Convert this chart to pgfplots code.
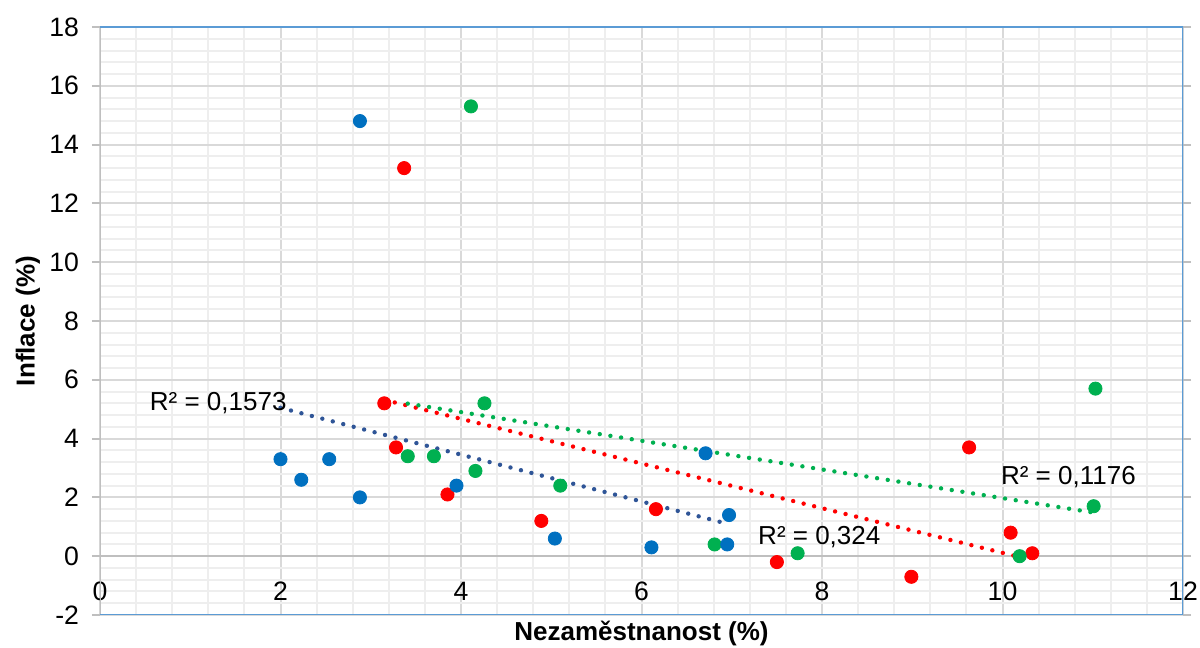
\documentclass[border=0pt]{standalone}
\usepackage{pgfplots}
\pgfplotsset{compat=1.18}
\usepackage{pgfplotstable}
\usepackage{fontspec}
\setmainfont{Liberation Sans}

\definecolor{cblue}{HTML}{0070C0}
\definecolor{cred}{HTML}{FF0000}
\definecolor{cgreen}{HTML}{00B050}
\definecolor{tblue}{HTML}{2F5597}
\definecolor{framec}{HTML}{5B9BD5}
\definecolor{axgray}{HTML}{BFBFBF}
\definecolor{majgrid}{HTML}{D9D9D9}
\definecolor{mingrid}{HTML}{EEEEEE}

\pgfplotstableread{
x y
2.00 3.3
2.23 2.6
2.54 3.3
2.88 14.8
2.88 2.0
3.95 2.4
5.04 0.6
6.11 0.3
6.71 3.5
6.95 0.4
6.97 1.4
}\bluedata

\pgfplotstableread{
x y
3.15 5.2
3.28 3.7
3.37 13.2
3.85 2.1
4.89 1.2
6.16 1.6
7.50 -0.2
8.99 -0.7
9.63 3.7
10.09 0.8
10.33 0.1
}\reddata

\pgfplotstableread{
x y
3.41 3.4
3.70 3.4
4.11 15.3
4.16 2.9
4.26 5.2
5.10 2.4
6.81 0.4
7.73 0.1
10.19 0.0
11.01 1.7
11.03 5.7
}\greendata

\begin{document}
\begin{tikzpicture}
\begin{axis}[
  name=ax,
  scale only axis,
  width=541.5pt, height=294pt,
  xmin=0, xmax=12, ymin=-2, ymax=18,
  xtick={0,2,...,12}, ytick={-2,0,...,18},
  minor tick num=4,
  grid=both,
  major grid style={majgrid, line width=1pt},
  minor grid style={mingrid, line width=1pt},
  axis line style={draw=none},
  tick align=outside,
  major tick length=4pt,
  xtick style={draw=none},
  ytick style={axgray, line width=1pt},
  minor tick style={draw=none},
  /pgf/number format/assume math mode=true,
  ticklabel style={font=\fontsize{13.3}{15}\selectfont},
  xticklabel style={anchor=center, yshift=16pt},
  yticklabel style={xshift=-3pt},
  xlabel={Nezaměstnanost (\%)},
  ylabel={Inflace (\%)},
  label style={font=\fontsize{13}{15}\selectfont\bfseries},
  xlabel style={at={(axis description cs:0.5,-0.032)}, anchor=center},
  ylabel style={at={(axis description cs:-0.0665,0.5)}, anchor=center},
]
\draw[axgray, line width=1.2pt] (axis cs:0,0) -- (axis cs:12,0);
\draw[axgray, line width=1.2pt] (axis cs:0,-2) -- (axis cs:0,18);
\draw[framec, line width=1.2pt] (rel axis cs:0,0) -- (rel axis cs:1,0) -- (rel axis cs:1,1) -- (rel axis cs:0,1);

\addplot[only marks, mark=*, mark size=3.3pt, mark options={draw=cred, fill=cred}] table[x=x,y=y] {\reddata};
\addplot[only marks, mark=*, mark size=3.3pt, mark options={draw=cgreen, fill=cgreen}] table[x=x,y=y] {\greendata};
\addplot[only marks, mark=*, mark size=3.3pt, mark options={draw=cblue, fill=cblue}] table[x=x,y=y] {\bluedata};

\addplot[tblue, line width=2.2pt, line cap=round, dash pattern=on 0pt off 5.4pt] table[x=x, y={create col/linear regression={y=y}}] {\bluedata};
\addplot[cred, line width=2.2pt, line cap=round, dash pattern=on 0pt off 5.4pt] table[x=x, y={create col/linear regression={y=y}}] {\reddata};
\addplot[cgreen, line width=2.2pt, line cap=round, dash pattern=on 0pt off 5.4pt] table[x=x, y={create col/linear regression={y=y}}] {\greendata};

\node[font=\fontsize{13}{15}\selectfont] at (axis cs:1.31,5.2) {R² = 0,1573};
\node[font=\fontsize{13}{15}\selectfont] at (axis cs:7.97,0.65) {R² = 0,324};
\node[font=\fontsize{13}{15}\selectfont] at (axis cs:10.73,2.69) {R² = 0,1176};
\end{axis}
\pgfresetboundingbox
\path[use as bounding box] ([shift={(-50pt,-16.5pt)}]ax.south west) rectangle ([shift={(8.5pt,13.5pt)}]ax.north east);
\end{tikzpicture}
\end{document}
